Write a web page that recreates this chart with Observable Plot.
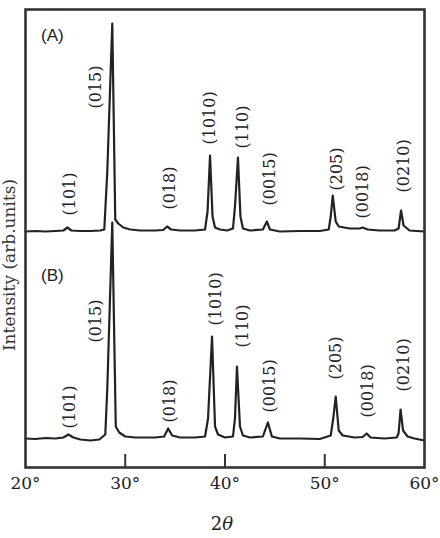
<!DOCTYPE html>
<html>
<head>
<meta charset="utf-8">
<script src="https://cdn.jsdelivr.net/npm/d3@7"></script>
<script src="https://cdn.jsdelivr.net/npm/@observablehq/plot@0.6"></script>
<style>
  html, body { margin: 0; padding: 0; background: #fff; }
  #chart { width: 440px; height: 538px; }
</style>
</head>
<body>
<div id="chart"></div>
<script>
// ---- Data ----
// Trace A (upper pattern): 2θ and intensity relative to its own baseline
const twoThetaA = [20.0,21.0,22.0,23.0,23.8,24.2,24.6,25.5,26.5,27.5,27.9,28.2,28.7,29.0,29.3,29.8,30.5,31.5,33.0,33.8,34.2,34.6,35.5,37.0,38.0,38.25,38.5,38.75,39.0,39.5,40.2,40.8,41.0,41.3,41.55,41.8,42.5,43.8,44.2,44.5,45.5,47.5,49.5,50.4,50.6,50.8,51.1,51.4,52.5,53.5,53.8,54.3,55.5,57.0,57.4,57.65,57.9,58.5,60.0];
const intensityA = [0,0.5,0,0.5,1,4,1,0.5,0.5,1,2,60,208,12,8,4,2,1,1,1.5,5,2,1,1,2,20,76,15,4,2,1,3,25,74,15,3,1,2,10,2,0,0.5,0.5,2,15,36,10,5,3,3,4,2,1,1,3,21,6,1,0];
// Trace B (lower pattern)
const twoThetaB = [20.0,21.0,22.0,23.0,23.8,24.3,24.8,25.5,26.5,27.4,28.0,28.2,28.7,29.05,29.4,30.0,31.0,33.0,33.9,34.3,34.7,35.5,37.0,38.0,38.3,38.7,39.0,39.3,40.0,40.8,41.0,41.2,41.5,41.8,42.5,43.8,44.3,44.7,45.5,47.5,49.5,50.6,50.85,51.1,51.4,51.8,53.0,53.8,54.2,54.6,56.0,57.2,57.4,57.6,57.85,58.3,59.0,60.0];
const intensityB = [0,-0.5,0.5,0,1,4,1,-1,-2,-1,4,50,216,12,6,2,1,1,2,10,3,1,1,2,20,102,12,4,1,2,20,72,12,3,1,2,16,2,0,0,-0.5,3,20,42,8,3,1,1.5,5,1,0,1,5,29,8,2,0,-2];
const offsetA = 236;
const offsetB = 29;

// Peak labels (Miller indices)
const hkl = ["(101)","(015)","(018)","(1010)","(110)","(0015)","(205)","(0018)","(0210)"];
const labelXA = [24.47,27.08,34.5,38.52,41.84,44.45,51.18,53.8,57.9];
const labelYA = [252,359,258,323,319,262,277,249,275];
const labelXB = [24.47,27.08,34.5,39.13,41.84,44.45,51.08,54.3,57.9];
const labelYB = [39,125,45,142,120,55,88,50,76];

const panelNames = ["(A)","(B)"];
const panelX = [22.7,22.7];
const panelY = [432,192];

const xTicks = [20,30,40,50,60];
const innerTicks = [30,40,50];

// ---- Build tables ----
const traceA = twoThetaA.map((x,i)=>({x, y: intensityA[i] + offsetA}));
const traceB = twoThetaB.map((x,i)=>({x, y: intensityB[i] + offsetB}));
const labelsA = hkl.map((t,i)=>({t, x: labelXA[i], y: labelYA[i]}));
const labelsB = hkl.map((t,i)=>({t, x: labelXB[i], y: labelYB[i]}));
const panels = panelNames.map((t,i)=>({t, x: panelX[i], y: panelY[i]}));

const serif = "'DejaVu Serif', serif";

const chart = Plot.plot({
  width: 440,
  height: 538,
  marginLeft: 25,
  marginRight: 16,
  marginTop: 9,
  marginBottom: 71,
  style: {background: "#fff", fontFamily: serif},
  x: {domain: [20, 60]},
  y: {domain: [0, 458], axis: null},
  marks: [
    Plot.axisX(xTicks, {tickSize: 0, tickPadding: 9, tickFormat: d => d + "°", fontSize: 17, fontFamily: serif, fill: "#222", label: null}),
    Plot.ruleX(innerTicks, {y1: 0, y2: 13, stroke: "#333", strokeWidth: 2}),
    Plot.line(traceA, {x: "x", y: "y", stroke: "#222", strokeWidth: 2.2, curve: "linear"}),
    Plot.line(traceB, {x: "x", y: "y", stroke: "#222", strokeWidth: 2.2, curve: "linear"}),
    Plot.text(labelsA, {x: "x", y: "y", text: "t", rotate: -90, textAnchor: "start", fontSize: 16, fontFamily: serif, fill: "#222"}),
    Plot.text(labelsB, {x: "x", y: "y", text: "t", rotate: -90, textAnchor: "start", fontSize: 16, fontFamily: serif, fill: "#222"}),
    Plot.text(panels, {x: "x", y: "y", text: "t", fontSize: 17, fontFamily: "'Liberation Sans', Arial, sans-serif", fill: "#222"}),
    Plot.frame({stroke: "#333", strokeWidth: 2.6})
  ]
});

const svg = d3.select(chart);
// y-axis title
svg.append("text")
  .attr("transform", "translate(15,265) rotate(-90)")
  .attr("text-anchor", "middle")
  .attr("font-family", serif)
  .attr("font-size", 17)
  .attr("fill", "#333")
  .text("Intensity (arb.units)");
// x-axis title
const xt = svg.append("text")
  .attr("x", 222)
  .attr("y", 530)
  .attr("text-anchor", "middle")
  .attr("font-family", serif)
  .attr("font-size", 18)
  .attr("fill", "#222");
xt.append("tspan").text("2");
xt.append("tspan").attr("font-style", "italic").text("θ");

document.getElementById("chart").appendChild(chart);
</script>
</body>
</html>
